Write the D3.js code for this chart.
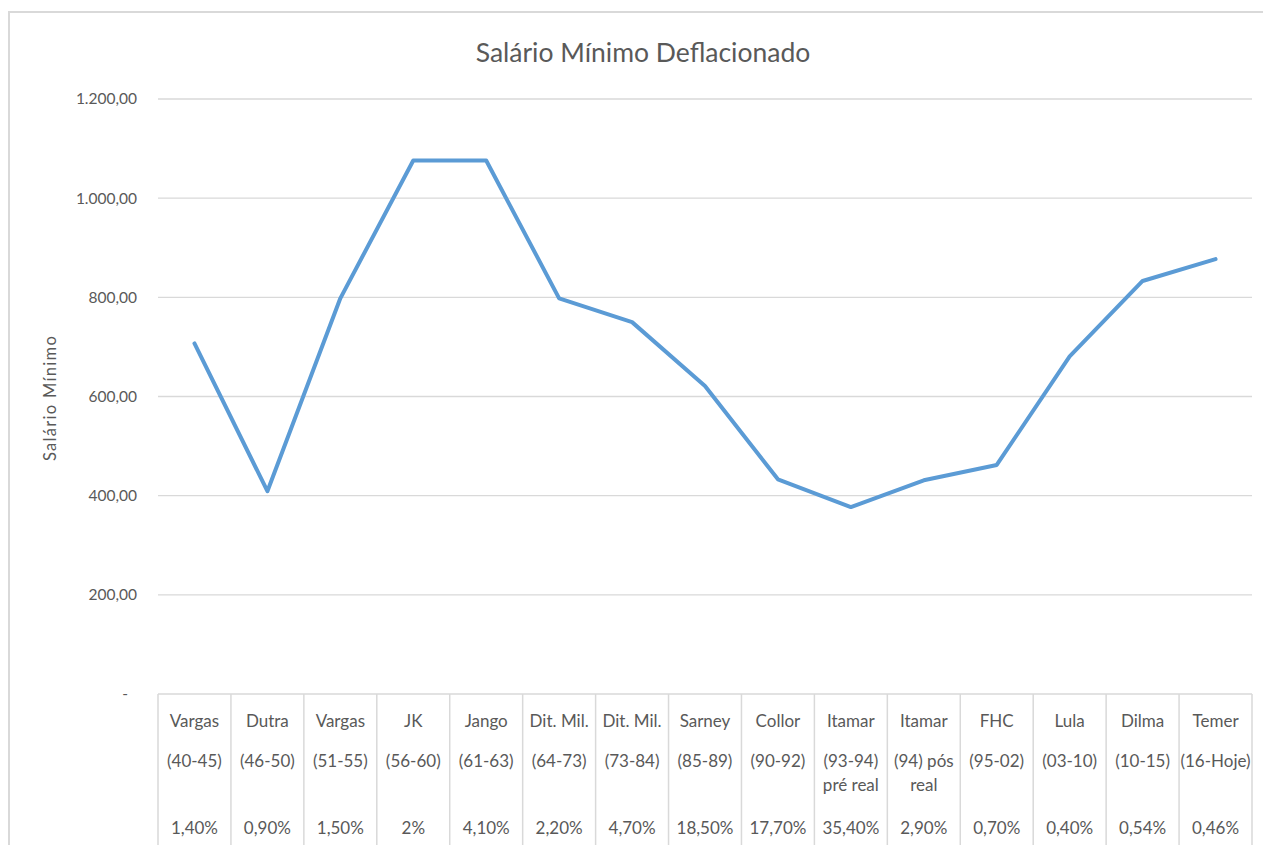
<!DOCTYPE html>
<html><head><meta charset="utf-8">
<script src="https://cdn.jsdelivr.net/npm/d3@7"></script>
<style>body{margin:0;background:#fff}svg{display:block}</style>
</head><body>
<svg id="c" width="1263" height="845"></svg>
<script>
const names = ["Vargas","Dutra","Vargas","JK","Jango","Dit. Mil.","Dit. Mil.","Sarney","Collor","Itamar","Itamar","FHC","Lula","Dilma","Temer"];
const periods = [["(40-45)"],["(46-50)"],["(51-55)"],["(56-60)"],["(61-63)"],["(64-73)"],["(73-84)"],["(85-89)"],["(90-92)"],["(93-94)","pré real"],["(94) pós","real"],["(95-02)"],["(03-10)"],["(10-15)"],["(16-Hoje)"]];
const shares = ["1,40%","0,90%","1,50%","2%","4,10%","2,20%","4,70%","18,50%","17,70%","35,40%","2,90%","0,70%","0,40%","0,54%","0,46%"];
const values = [707,409,798,1076,1076,798,750,621,433,377,431,462,681,833,877];
const yTicks = [0,200,400,600,800,1000,1200];

const svg = d3.select("#c");
const font = "Lato, 'Open Sans', sans-serif";
const txt = "#595959", grid = "#d9d9d9";
const L = 158, R = 1252, T = 99, B = 694;

// outer frame
svg.append("path").attr("d","M9,845 V12 H1263").attr("fill","none").attr("stroke",grid).attr("stroke-width",2);

const idx = d3.range(values.length);
const x = d3.scaleBand().domain(idx).range([L,R]).padding(0);
const y = d3.scaleLinear().domain([0,1200]).range([B,T]);

// gridlines
svg.append("g").selectAll("line").data(yTicks.filter(d=>d>0)).join("line")
  .attr("x1",L).attr("x2",R).attr("y1",d=>y(d)).attr("y2",d=>y(d))
  .attr("stroke",grid).attr("stroke-width",1.3);

// y labels
const fmt = d => d===0 ? "-" : d3.formatLocale({decimal:",",thousands:".",grouping:[3],currency:["",""]}).format(",.2f")(d);
svg.append("g").selectAll("text").data(yTicks).join("text")
  .attr("x",d=>d===0?128:137).attr("y",d=>y(d)).attr("dy","0.35em").attr("text-anchor","end")
  .attr("font-family",font).attr("font-size",15.5).attr("fill",txt).text(fmt);

// y title
svg.append("text").attr("transform","translate(56,398) rotate(-90)").attr("text-anchor","middle")
  .attr("font-family",font).attr("font-size",16.5).attr("fill",txt).attr("letter-spacing",1.3).text("Salário Mínimo");

// title
svg.append("text").attr("x",643).attr("y",62).attr("text-anchor","middle")
  .attr("font-family",font).attr("font-size",26.5).attr("fill",txt).text("Salário Mínimo Deflacionado");

// category table
svg.append("line").attr("x1",L).attr("x2",R).attr("y1",B).attr("y2",B).attr("stroke",grid).attr("stroke-width",1.5);
const bounds = idx.map(i=>x(i)).concat([R]);
svg.append("g").selectAll("line").data(bounds).join("line")
  .attr("x1",d=>d).attr("x2",d=>d).attr("y1",B).attr("y2",845).attr("stroke",grid).attr("stroke-width",1.5);

const cat = svg.append("g").attr("font-family",font).attr("font-size",17).attr("fill",txt).attr("text-anchor","middle");
idx.forEach(i=>{
  const cx = x(i)+x.bandwidth()/2;
  cat.append("text").attr("x",cx).attr("y",727).text(names[i]);
  periods[i].forEach((p,j)=>cat.append("text").attr("x",cx).attr("y",767+j*24).text(p));
  cat.append("text").attr("x",cx).attr("y",834).text(shares[i]);
});

// line
const line = d3.line().x((d,i)=>x(i)+x.bandwidth()/2).y(d=>y(d));
svg.append("path").datum(values).attr("d",line).attr("fill","none")
  .attr("stroke","#5B9BD5").attr("stroke-width",4).attr("stroke-linejoin","round").attr("stroke-linecap","round");
</script>
</body></html>
